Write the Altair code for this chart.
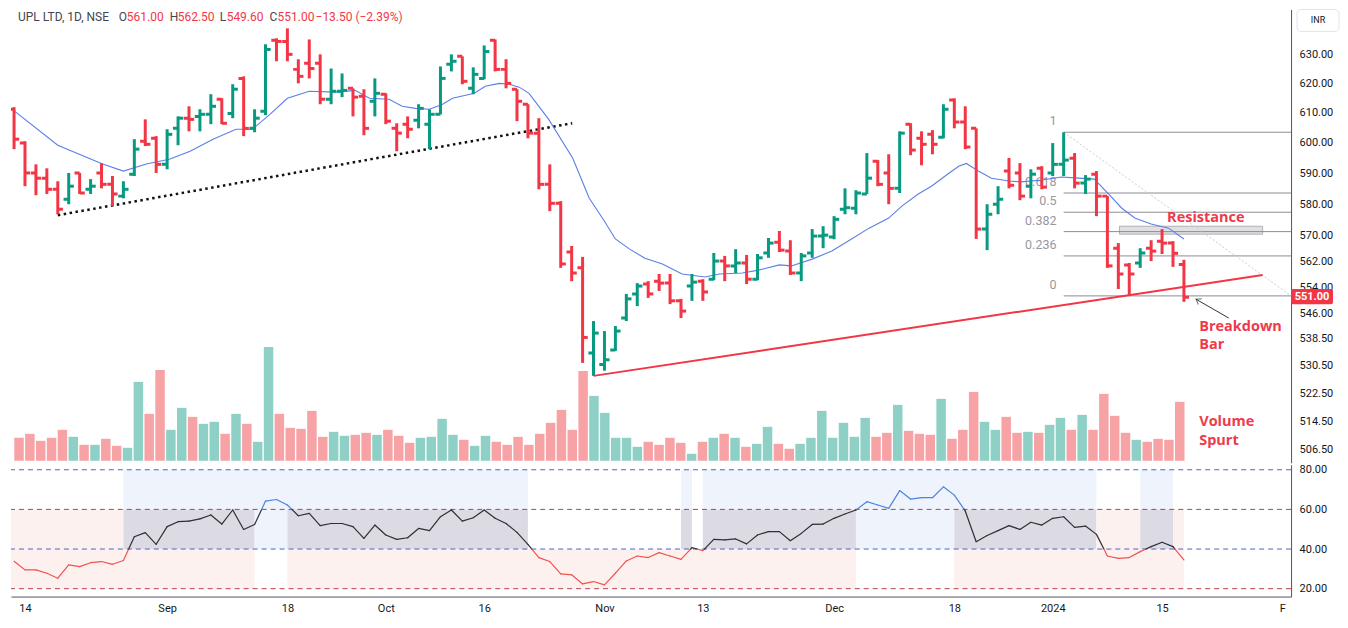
import altair as alt
import pandas as pd

# ---------------- data ----------------
opens = [611.2, 599.9, 590.1, 588.4, 584.8, 581.6, 590.1, 584.8, 590.1, 586.4,
         582.6, 589.7, 600.5, 601.5, 592.9, 604.8, 608.2, 608.8, 609.5, 614.6,
         609.8, 621.7, 604.8, 610.5, 634.9, 634.5, 624.8, 626.9, 626.9, 614.6,
         617.3, 618.3, 615.6, 613.9, 616.3, 604.8, 606.2, 607.5, 606.2, 609.5,
         626.6, 629.3, 618.3, 621.7, 634.9, 624.8, 618.0, 612.9, 603.2, 586.4,
         580.3, 564.9, 560.0, 534.3, 530.9, 535.2, 544.7, 552.0, 555.0, 555.9,
         555.3, 549.9, 554.4, 555.9, 556.5, 562.1, 560.6, 561.5, 556.5, 564.6,
         568.0, 565.2, 558.4, 564.6, 569.9, 569.6, 578.4, 578.7, 583.3, 593.9,
         590.1, 585.1, 606.2, 601.5, 602.8, 601.8, 614.3, 606.9, 604.8, 572.1,
         580.0, 590.7, 590.1, 585.8, 591.6, 590.1, 592.9, 594.9, 586.8, 589.7,
         582.6, 566.1, 560.9, 561.5, 566.1, 568.3, 567.7, 561.0]
highs = [611.9, 600.5, 592.9, 591.6, 587.4, 590.1, 590.1, 588.1, 593.3, 589.1,
         587.4, 601.2, 607.8, 602.2, 604.5, 608.8, 612.2, 611.2, 616.3, 614.9,
         619.7, 622.4, 611.2, 633.5, 635.6, 639.1, 628.3, 635.2, 630.0, 625.1,
         623.4, 618.3, 618.0, 621.7, 616.6, 606.5, 608.8, 612.9, 611.2, 625.8,
         630.0, 629.3, 625.5, 633.1, 635.2, 628.3, 618.0, 612.9, 608.2, 592.9,
         581.0, 566.8, 563.4, 543.8, 540.8, 542.3, 552.0, 555.3, 555.9, 558.1,
         558.1, 550.5, 558.1, 556.5, 564.6, 563.7, 565.8, 564.0, 564.3, 569.3,
         571.5, 568.6, 564.6, 572.1, 573.0, 576.2, 585.1, 584.5, 596.6, 594.3,
         596.2, 603.8, 606.5, 603.8, 604.2, 612.9, 614.9, 612.2, 604.8, 580.0,
         585.8, 595.0, 593.3, 591.3, 592.3, 599.9, 603.5, 596.6, 589.4, 590.7,
         582.6, 567.7, 561.5, 566.1, 568.6, 572.1, 568.3, 562.5]
lows = [597.9, 585.8, 582.9, 583.3, 576.8, 580.0, 583.3, 583.3, 585.1, 579.4,
        581.9, 589.1, 598.9, 590.1, 591.3, 599.2, 603.8, 603.8, 606.2, 606.2,
        608.2, 602.2, 603.5, 609.2, 627.6, 627.6, 620.0, 621.7, 612.9, 612.9,
        615.3, 608.8, 602.5, 608.8, 606.2, 597.2, 601.5, 604.8, 597.9, 609.5,
        624.1, 619.7, 616.3, 621.4, 624.1, 618.3, 607.2, 601.5, 584.8, 577.8,
        560.0, 555.9, 531.4, 527.6, 529.1, 534.9, 543.8, 548.3, 550.8, 552.9,
        548.9, 544.7, 549.9, 549.9, 556.2, 555.9, 558.4, 555.0, 556.2, 563.1,
        564.9, 557.8, 555.9, 563.1, 566.1, 568.9, 576.8, 576.8, 583.3, 585.8,
        580.0, 583.6, 595.9, 592.6, 596.2, 601.5, 604.8, 597.9, 569.0, 565.5,
        576.8, 585.1, 581.3, 581.9, 584.8, 589.1, 589.1, 585.1, 583.3, 576.2,
        560.0, 553.5, 551.4, 560.0, 562.1, 564.3, 560.3, 549.6]
closes = [601.2, 590.1, 588.4, 584.8, 578.4, 585.8, 583.6, 585.8, 586.4, 583.3,
          584.8, 597.9, 599.5, 592.9, 602.8, 608.2, 607.8, 609.5, 612.2, 606.5,
          618.0, 604.8, 608.2, 631.7, 634.5, 630.0, 622.4, 625.1, 614.6, 617.3,
          617.6, 615.3, 604.8, 616.6, 607.2, 603.2, 604.5, 611.5, 609.5, 621.7,
          627.6, 620.7, 623.1, 631.0, 624.8, 620.0, 613.9, 603.2, 586.4, 580.3,
          561.2, 558.4, 538.9, 540.2, 532.3, 540.8, 550.5, 554.4, 552.0, 555.3,
          549.9, 546.8, 555.6, 552.6, 562.1, 560.6, 561.5, 556.5, 563.1, 567.7,
          565.5, 558.4, 563.7, 569.9, 570.2, 575.2, 578.9, 583.6, 588.4, 586.4,
          585.1, 603.2, 597.6, 599.5, 599.5, 611.2, 606.9, 598.6, 572.1, 576.8,
          581.6, 586.1, 582.6, 589.7, 585.5, 592.9, 594.3, 586.8, 588.1, 582.6,
          560.6, 558.1, 558.1, 564.6, 565.2, 567.7, 564.5, 551.0]
volumes = [2.3, 2.7, 2.0, 2.3, 3.1, 2.4, 1.6, 1.6, 2.2, 1.5,
           1.3, 7.9, 4.7, 9.1, 3.1, 5.3, 4.4, 3.7, 3.9, 2.7,
           4.7, 3.7, 1.9, 11.4, 4.7, 3.3, 3.2, 5.0, 2.4, 2.9,
           2.5, 2.6, 2.8, 2.6, 3.1, 2.5, 1.8, 2.3, 2.4, 4.2,
           2.6, 2.1, 1.5, 2.5, 1.9, 1.6, 2.4, 1.6, 2.7, 3.8,
           5.1, 3.1, 9.0, 6.5, 4.8, 2.3, 2.3, 1.4, 1.9, 1.6,
           2.3, 1.8, 0.7, 1.9, 2.3, 2.7, 2.3, 1.4, 1.7, 3.4,
           1.7, 1.2, 1.7, 2.3, 5.0, 2.3, 3.8, 2.4, 4.3, 2.4,
           2.8, 5.6, 3.0, 2.7, 2.6, 6.2, 2.2, 3.1, 6.9, 3.9,
           3.1, 4.4, 2.8, 2.9, 2.8, 3.6, 4.3, 3.1, 4.6, 3.1,
           6.7, 4.5, 2.8, 2.1, 1.9, 2.2, 2.1, 5.9]
rsi_vals = [33.8, 29.5, 29.5, 27.8, 25.3, 32.0, 31.1, 33.1, 33.7, 32.3,
            34.2, 46.2, 48.3, 42.4, 51.3, 53.8, 54.1, 55.2, 57.2, 52.6,
            59.7, 49.9, 52.4, 64.2, 65.0, 62.2, 56.8, 58.0, 51.8, 52.9,
            52.9, 51.3, 45.4, 52.1, 47.1, 44.9, 45.7, 50.4, 49.3, 56.3,
            59.7, 54.1, 55.8, 59.7, 55.5, 52.9, 48.4, 42.4, 35.7, 33.7,
            27.5, 27.0, 22.4, 23.6, 21.9, 27.8, 34.0, 36.5, 35.7, 38.2,
            36.5, 34.8, 40.7, 39.2, 44.9, 44.6, 45.1, 42.6, 47.1, 48.8,
            48.8, 44.2, 47.9, 52.4, 52.6, 55.5, 57.7, 59.7, 63.9, 62.2,
            60.5, 69.5, 65.2, 65.9, 65.9, 71.4, 67.2, 59.2, 43.7, 46.8,
            49.3, 51.8, 49.9, 53.5, 52.1, 55.5, 56.3, 50.9, 51.6, 47.4,
            36.5, 35.3, 35.7, 38.7, 41.2, 43.4, 41.2, 34.5]
ma_idx = [-0.28, 4.0, 8.1, 10.0, 12.1, 14.2, 16.1, 18.2, 20.3, 21.8, 23.4, 25.0,
          27.0, 29.4, 31.2, 32.5, 34.3, 35.5, 36.7, 38.0, 39.2, 40.1, 42.1, 43.1,
          44.4, 45.3, 46.2, 47.1, 48.9, 51.1, 52.6, 54.0, 55.0, 56.3, 57.7, 59.3,
          61.1, 63.2, 64.5, 66.6, 68.1, 70.0, 71.1, 73.0, 74.8, 76.6, 78.2, 80.0,
          81.2, 82.7, 83.9, 85.5, 86.4, 87.1, 88.2, 89.4, 91.0, 92.1, 94.0, 95.8,
          97.4, 98.8, 100.1, 101.3, 102.5, 104.0, 105.6, 107.0]
ma_val = [611.5, 599.2, 593.0, 590.7, 593.0, 594.6, 597.2, 601.2, 604.5, 604.5, 609.5, 614.9,
          617.3, 617.0, 617.6, 614.9, 614.6, 612.2, 611.5, 611.2, 612.9, 614.9, 616.6, 619.0,
          620.0, 619.7, 618.7, 616.6, 607.8, 594.9, 582.0, 574.6, 569.0, 565.8, 563.0, 561.2,
          558.1, 557.2, 558.1, 558.4, 559.3, 560.9, 560.6, 562.7, 565.2, 569.0, 572.4, 575.6,
          579.4, 583.3, 585.8, 590.0, 592.3, 593.2, 590.7, 588.4, 587.5, 587.2, 587.8, 588.8,
          588.4, 588.1, 583.3, 578.8, 575.6, 573.7, 572.4, 569.0]

price_ticks = [630, 620, 610, 600, 590, 580, 570, 562, 554, 546, 538.5, 530.5, 522.5, 514.5, 506.5]
rsi_ticks = [80, 60, 40, 20]
date_tick_idx = [1, 14, 25, 34, 43, 54, 63, 75, 86, 95, 105, 116]
date_tick_lbl = ["14", "Sep", "18", "Oct", "16", "Nov", "13", "Dec", "18", "2024", "15", "F"]

fib_ratios = [1, 0.618, 0.5, 0.382, 0.236, 0]
fib_labels = ["1", "0.618", "0.5", "0.382", "0.236", "0"]
fib_high, fib_low = 603.5, 551.4
fib_start = 96

dotted_trend = {"i": [4.0, 51.05], "p": [576.5, 606.5]}
red_trend = {"i": [53.0, 114.2], "p": [527.6, 557.8]}
resist_box = {"i0": [101.1], "i1": [114.2], "p0": [570.5], "p1": [573.0]}

# RSI background shading: start bar, end bar, lower / upper RSI level, kind
zone_start = [-0.28, 25, 86,    10, 61, 63, 103,    -0.28, 10, 22, 25, 61, 63, 77, 86, 99, 103, 106]
zone_end   = [22, 77, 107,      47, 62, 99, 106,    10, 22, 25, 47, 62, 77, 86, 99, 103, 106, 107]
zone_lo    = [20, 20, 20,       60, 60, 60, 60,     40, 40, 40, 40, 40, 40, 40, 40, 40, 40, 40]
zone_hi    = [40, 40, 40,       80, 80, 80, 80,     60, 60, 60, 60, 60, 60, 60, 60, 60, 60, 60]
zone_kind  = ["red", "red", "red", "blue", "blue", "blue", "blue",
              "red", "both", "blue", "both", "both", "both", "blue", "both", "red", "both", "red"]

# ---------------- styling ----------------
GREEN, RED = "#089981", "#f23645"
VOL_UP, VOL_DN = "#8fd0c6", "#f7a3a6"
TXT = "#131722"
FONT = "Roboto"
XD = [-0.28, 116.8]
W, H_MAIN, H_RSI = 1282, 454, 132

xs = alt.Scale(domain=XD, nice=False, zero=False)
ps = alt.Scale(type="log", domain=[502.9, 645.8], nice=False, zero=False)
rs = alt.Scale(domain=[16.02, 82.52], nice=False, zero=False)
NOX = dict(scale=xs, axis=None)

bars = pd.DataFrame({"i": list(range(len(opens))), "o": opens, "h": highs,
                     "l": lows, "c": closes, "v": volumes})
col = alt.condition("datum.c >= datum.o", alt.value(GREEN), alt.value(RED))
vcol = alt.condition("datum.c >= datum.o", alt.value(VOL_UP), alt.value(VOL_DN))

base = alt.Chart(bars)
vol = base.mark_bar(size=9.5).encode(
    x=alt.X("i:Q", **NOX),
    y=alt.Y("v:Q", scale=alt.Scale(domain=[-0.2, 45.2], nice=False, zero=False), axis=None),
    y2=alt.datum(0),
    color=vcol)

price_axis = alt.Axis(orient="right", values=price_ticks, format=".2f", tickSize=0,
                      labelPadding=8, domainColor="#50535e", grid=False, title=None,
                      labelFontSize=11, labelColor=TXT, labelFont=FONT)
hl = base.mark_rule(strokeWidth=3).encode(
    x=alt.X("i:Q", **NOX), y=alt.Y("l:Q", scale=ps, axis=price_axis), y2="h:Q", color=col)
ot = base.transform_calculate(xa="datum.i - 0.47").mark_rule(strokeWidth=3, clip=True).encode(
    x=alt.X("xa:Q", **NOX), x2="i:Q", y=alt.Y("o:Q", scale=ps, axis=None), color=col)
ct = base.transform_calculate(xb="datum.i + 0.47").mark_rule(strokeWidth=3).encode(
    x=alt.X("i:Q", **NOX), x2="xb:Q", y=alt.Y("c:Q", scale=ps, axis=None), color=col)

ma = alt.Chart(pd.DataFrame({"i": ma_idx, "p": ma_val})).mark_line(
    color="#5b7fe6", strokeWidth=1.1).encode(
    x=alt.X("i:Q", **NOX), y=alt.Y("p:Q", scale=ps, axis=None))

dot = alt.Chart(pd.DataFrame(dotted_trend)).mark_line(
    color="#111111", strokeWidth=2.5, strokeDash=[2.5, 3.5]).encode(
    x=alt.X("i:Q", **NOX), y=alt.Y("p:Q", scale=ps, axis=None))
redl = alt.Chart(pd.DataFrame(red_trend)).mark_line(
    color=RED, strokeWidth=2).encode(
    x=alt.X("i:Q", **NOX), y=alt.Y("p:Q", scale=ps, axis=None))

fib_df = pd.DataFrame({"r": fib_ratios, "lbl": fib_labels})
fib_df["p"] = fib_low + fib_df["r"] * (fib_high - fib_low)
fib_df["x0"] = fib_start
fib_df["x1"] = XD[1]
fib_df["xl"] = fib_start - 0.66
fib_lines = alt.Chart(fib_df).mark_rule(color="#8a8d96", strokeWidth=1).encode(
    x=alt.X("x0:Q", **NOX), x2="x1:Q", y=alt.Y("p:Q", scale=ps, axis=None))
fib_text = alt.Chart(fib_df).mark_text(align="right", baseline="middle", dy=-11,
                                       fontSize=12.5, color="#9598a1", font=FONT).encode(
    x=alt.X("xl:Q", **NOX), y=alt.Y("p:Q", scale=ps, axis=None), text="lbl:N")
fib_diag = alt.Chart(pd.DataFrame({"i": [fib_start, XD[1]], "p": [fib_high, fib_low]})).mark_line(
    color="#c9cbd1", strokeWidth=1, strokeDash=[2, 2]).encode(
    x=alt.X("i:Q", **NOX), y=alt.Y("p:Q", scale=ps, axis=None))

box = alt.Chart(pd.DataFrame(resist_box)).mark_rect(
    fill="#e0e0e3", stroke="#b2b2b6", strokeWidth=1).encode(
    x=alt.X("i0:Q", **NOX), x2="i1:Q", y=alt.Y("p0:Q", scale=ps, axis=None), y2="p1:Q")

ann = pd.DataFrame({
    "t": ["Resistance", "Breakdown", "Bar", "Volume", "Spurt"],
    "i": [109.0, 108.4, 108.4, 108.4, 108.4],
    "p": [575.6, 542.0, 536.7, 514.3, 509.0],
    "a": ["center", "left", "left", "left", "left"]})
AFONT = "Open Sans"
ann_c = alt.Chart(ann[ann.a == "center"]).mark_text(
    align="center", baseline="middle", fontSize=14.5, fontWeight="bold", color="#ee3a4b", font=AFONT).encode(
    x=alt.X("i:Q", **NOX), y=alt.Y("p:Q", scale=ps, axis=None), text="t:N")
ann_l = alt.Chart(ann[ann.a == "left"]).mark_text(
    align="left", baseline="middle", fontSize=14.5, fontWeight="bold", color="#ee3a4b", font=AFONT).encode(
    x=alt.X("i:Q", **NOX), y=alt.Y("p:Q", scale=ps, axis=None), text="t:N")

arrow_df = pd.DataFrame({"i": [111.1, 108.1], "p": [544.7, 550.4]})
arrow = alt.Chart(arrow_df).mark_line(color="#333333", strokeWidth=1).encode(
    x=alt.X("i:Q", **NOX), y=alt.Y("p:Q", scale=ps, axis=None))
head = alt.Chart(arrow_df.tail(1)).mark_point(
    shape="M1,-0.7L0,0L1,0.7", filled=False, stroke="#333333", strokeWidth=1, size=90, angle=30).encode(
    x=alt.X("i:Q", **NOX), y=alt.Y("p:Q", scale=ps, axis=None))

last = pd.DataFrame({"p": [closes[-1]], "p0": [548.9], "p1": [553.5],
                     "t": [f"{closes[-1]:.2f}"]})
badge = alt.Chart(last).mark_rect(fill=RED, cornerRadius=2).encode(
    x=alt.value(W), x2=alt.value(W + 42),
    y=alt.Y("p0:Q", scale=ps, axis=None), y2="p1:Q")
badge_t = alt.Chart(last).mark_text(color="white", fontWeight="bold", fontSize=11, font=FONT,
                                    baseline="middle", align="center").encode(
    x=alt.value(W + 21), y=alt.Y("p:Q", scale=ps, axis=None), text="t:N")

one = pd.DataFrame({"t": ["INR"]})
inr_box = alt.Chart(one).mark_rect(fill="white", stroke="#e0e3eb", cornerRadius=4).encode(
    x=alt.value(W + 6), x2=alt.value(W + 48), y=alt.value(0), y2=alt.value(22))
inr_t = alt.Chart(one).mark_text(fontSize=9, color=TXT, font=FONT, baseline="middle").encode(
    x=alt.value(W + 27), y=alt.value(11), text="t:N")

o, h, l, c = opens[-1], highs[-1], lows[-1], closes[-1]
head_parts = pd.DataFrame({
    "t": ["UPL LTD, 1D, NSE", "O", f"{o:.2f}", "H", f"{h:.2f}", "L", f"{l:.2f}",
          "C", f"{c:.2f}", "\u221213.50 (\u22122.39%)"],
    "x": [7, 108, 116, 159, 167, 209, 216, 259, 267, 305],
    "k": ["d", "d", "r", "d", "r", "d", "r", "d", "r", "r"]})
header = alt.Chart(head_parts).mark_text(align="left", baseline="middle", fontSize=12, font=FONT).encode(
    x=alt.X("x:Q", scale=None, axis=None), y=alt.value(8), text="t:N",
    color=alt.Color("k:N", scale=alt.Scale(domain=["d", "r"], range=["#434651", RED]), legend=None))

main = alt.layer(vol, box, fib_lines, fib_diag, fib_text, dot, redl, ma,
                 hl, ot, ct, ann_c, ann_l, arrow, head, badge, badge_t,
                 inr_box, inr_t, header).resolve_scale(
    y="independent", x="independent", color="independent").properties(width=W, height=H_MAIN)

# ---------------- RSI pane ----------------
segs = []
for k in range(len(rsi_vals) - 1):
    i0, v0, i1, v1 = k, rsi_vals[k], k + 1, rsi_vals[k + 1]
    ths = [40, 60] if v1 >= v0 else [60, 40]
    pts = [(i0, v0)]
    for th in ths:
        if (v0 - th) * (v1 - th) < 0:
            t = (th - v0) / (v1 - v0)
            pts.append((i0 + t * (i1 - i0), th))
    pts.append((i1, v1))
    for a, b in zip(pts[:-1], pts[1:]):
        m = (a[1] + b[1]) / 2
        band = "low" if m < 40 else ("high" if m > 60 else "mid")
        segs.append({"x": a[0], "y": a[1], "x2": b[0], "y2": b[1], "band": band})
segs = pd.DataFrame(segs)

zones = pd.DataFrame({"s": zone_start, "e": zone_end, "lo": zone_lo, "hi": zone_hi, "k": zone_kind})
zone_rects = alt.Chart(zones).mark_rect().encode(
    x=alt.X("s:Q", **NOX), x2="e:Q",
    y=alt.Y("lo:Q", scale=rs, axis=None), y2="hi:Q",
    color=alt.Color("k:N", scale=alt.Scale(domain=["red", "blue", "both"],
                                           range=["#fdf1ef", "#eef3fc", "#dcdae3"]), legend=None))

lv = pd.DataFrame({"v": rsi_ticks, "k": ["b", "r", "b", "r"]})
rsi_axis = alt.Axis(orient="right", values=rsi_ticks, format=".2f", tickSize=0, labelPadding=8,
                    domainColor="#50535e", grid=False, title=None, labelFontSize=11,
                    labelColor=TXT, labelFont=FONT)
levels = alt.Chart(lv).mark_rule(strokeWidth=1, strokeDash=[5, 4]).encode(
    y=alt.Y("v:Q", scale=rs, axis=rsi_axis),
    color=alt.Color("k:N", scale=alt.Scale(domain=["b", "r"], range=["#4a66c8", "#b8404c"]), legend=None))

lbl_expr = " : ".join([f"datum.value == {v} ? '{t}'" for v, t in zip(date_tick_idx, date_tick_lbl)]) + " : ''"
x_axis = alt.Axis(values=date_tick_idx, labelExpr=lbl_expr, tickSize=0, labelPadding=6,
                  domainColor="#50535e", grid=False, title=None, labelFontSize=11, labelColor=TXT,
                  labelFont=FONT, labelOverlap=False, labelFlush=False)
rsi_line = alt.Chart(segs).mark_rule(strokeWidth=1.2, strokeCap="round").encode(
    x=alt.X("x:Q", scale=xs, axis=x_axis), x2="x2:Q",
    y=alt.Y("y:Q", scale=rs, axis=None), y2="y2:Q",
    color=alt.Color("band:N", scale=alt.Scale(domain=["low", "mid", "high"],
                                              range=["#ef5350", "#2f2f35", "#4c84e0"]), legend=None))

rsi = alt.layer(zone_rects, levels, rsi_line).resolve_scale(
    y="independent", x="independent", color="independent").properties(width=W, height=H_RSI)

chart = alt.vconcat(main, rsi, spacing=1).resolve_scale(
    x="independent", y="independent", color="independent").properties(
    padding={"left": 0, "top": 0, "right": 0, "bottom": 0}).configure_view(stroke=None)

chart.save("out.html", embed_options={"renderer": "svg", "actions": False})
